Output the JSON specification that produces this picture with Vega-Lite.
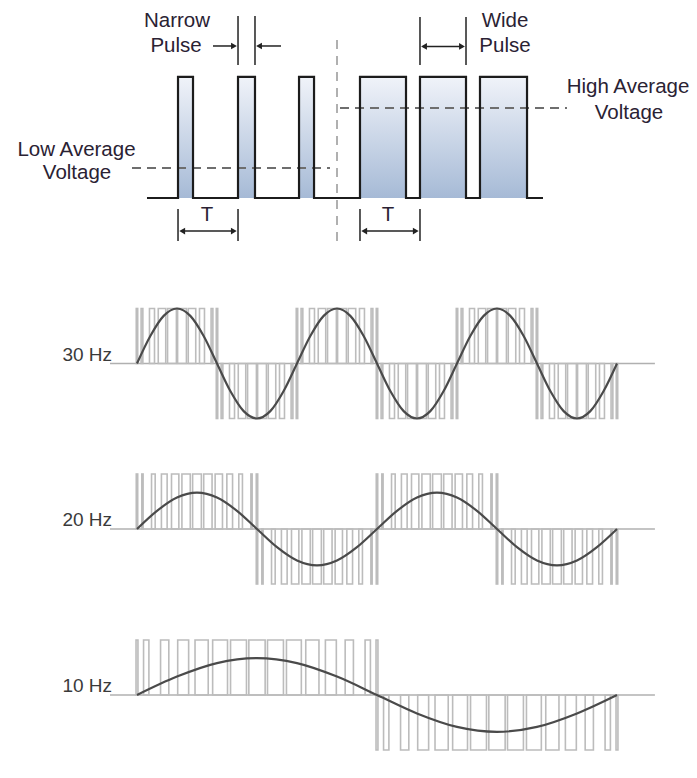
{
  "$schema": "https://vega.github.io/schema/vega-lite/v6.json",
  "padding": 0,
  "spacing": 0,
  "bounds": "flush",
  "background": "white",
  "config": {"view": {"stroke": null}},
  "vconcat": [
    {
      "width": 697,
      "height": 255,
      "layer": [
        {
          "data": {"values": [
            {"x": 0, "x2": 0.25, "y": 1, "y2": 0},
            {"x": 1, "x2": 1.283, "y": 1, "y2": 0},
            {"x": 2.017, "x2": 2.267, "y": 1, "y2": 0},
            {"x": 3.033, "x2": 3.8, "y": 1, "y2": 0},
            {"x": 4.033, "x2": 4.8, "y": 1, "y2": 0},
            {"x": 5.033, "x2": 5.817, "y": 1, "y2": 0}
          ]},
          "mark": {"type": "rect", "fill": {"gradient": "linear", "x1": 0, "y1": 0, "x2": 0, "y2": 1, "stops": [{"offset": 0, "color": "#f0f3f9"}, {"offset": 1, "color": "#a6bad6"}]}},
          "encoding": {
            "x": {"field": "x", "type": "quantitative", "scale": {"domain": [-2.967, 8.65], "nice": false, "zero": false}, "axis": null},
            "x2": {"field": "x2"},
            "y": {"field": "y", "type": "quantitative", "scale": {"domain": [-0.471, 1.636], "nice": false, "zero": false}, "axis": null},
            "y2": {"field": "y2"}
          }
        },
        {
          "data": {"values": [
            {"x": -0.767, "x2": 2.533, "y": 0.248, "y2": 0.248},
            {"x": 2.7, "x2": 6.483, "y": 0.744, "y2": 0.744}
          ]},
          "mark": {"type": "rule", "color": "#6e6e6e", "strokeWidth": 2, "strokeDash": [9, 6]},
          "encoding": {
            "x": {"field": "x", "type": "quantitative", "scale": {"domain": [-2.967, 8.65], "nice": false, "zero": false}, "axis": null},
            "x2": {"field": "x2"},
            "y": {"field": "y", "type": "quantitative", "scale": {"domain": [-0.471, 1.636], "nice": false, "zero": false}, "axis": null},
            "y2": {"field": "y2"}
          }
        },
        {
          "data": {"values": [
            {"x": 2.65, "x2": 2.65, "y": 1.306, "y2": -0.388}
          ]},
          "mark": {"type": "rule", "color": "#b0b0b0", "strokeWidth": 2, "strokeDash": [9, 7]},
          "encoding": {
            "x": {"field": "x", "type": "quantitative", "scale": {"domain": [-2.967, 8.65], "nice": false, "zero": false}, "axis": null},
            "x2": {"field": "x2"},
            "y": {"field": "y", "type": "quantitative", "scale": {"domain": [-0.471, 1.636], "nice": false, "zero": false}, "axis": null},
            "y2": {"field": "y2"}
          }
        },
        {
          "data": {"values": [
            {"i": 0, "x": -0.517, "y": 0}, {"i": 1, "x": 0, "y": 0}, {"i": 2, "x": 0, "y": 1}, {"i": 3, "x": 0.25, "y": 1}, {"i": 4, "x": 0.25, "y": 0},
            {"i": 5, "x": 1, "y": 0}, {"i": 6, "x": 1, "y": 1}, {"i": 7, "x": 1.283, "y": 1}, {"i": 8, "x": 1.283, "y": 0},
            {"i": 9, "x": 2.017, "y": 0}, {"i": 10, "x": 2.017, "y": 1}, {"i": 11, "x": 2.267, "y": 1}, {"i": 12, "x": 2.267, "y": 0},
            {"i": 13, "x": 3.033, "y": 0}, {"i": 14, "x": 3.033, "y": 1}, {"i": 15, "x": 3.8, "y": 1}, {"i": 16, "x": 3.8, "y": 0},
            {"i": 17, "x": 4.033, "y": 0}, {"i": 18, "x": 4.033, "y": 1}, {"i": 19, "x": 4.8, "y": 1}, {"i": 20, "x": 4.8, "y": 0},
            {"i": 21, "x": 5.033, "y": 0}, {"i": 22, "x": 5.033, "y": 1}, {"i": 23, "x": 5.817, "y": 1}, {"i": 24, "x": 5.817, "y": 0},
            {"i": 25, "x": 6.083, "y": 0}
          ]},
          "mark": {"type": "line", "color": "#1c1c1c", "strokeWidth": 2.2, "strokeJoin": "miter"},
          "encoding": {
            "x": {"field": "x", "type": "quantitative", "scale": {"domain": [-2.967, 8.65], "nice": false, "zero": false}, "axis": null},
            "y": {"field": "y", "type": "quantitative", "scale": {"domain": [-0.471, 1.636], "nice": false, "zero": false}, "axis": null},
            "order": {"field": "i", "type": "quantitative"}
          }
        },
        {
          "data": {"values": [
            {"x": 1, "x2": 1, "y": 1.504, "y2": 1.099},
            {"x": 1.283, "x2": 1.283, "y": 1.504, "y2": 1.099},
            {"x": 0.583, "x2": 0.94, "y": 1.256, "y2": 1.256},
            {"x": 1.717, "x2": 1.34, "y": 1.256, "y2": 1.256},
            {"x": 4.033, "x2": 4.033, "y": 1.496, "y2": 1.099},
            {"x": 4.8, "x2": 4.8, "y": 1.496, "y2": 1.099},
            {"x": 4.08, "x2": 4.75, "y": 1.252, "y2": 1.252},
            {"x": 0, "x2": 0, "y": -0.091, "y2": -0.355},
            {"x": 1, "x2": 1, "y": -0.091, "y2": -0.355},
            {"x": 0.05, "x2": 0.95, "y": -0.273, "y2": -0.273},
            {"x": 3.033, "x2": 3.033, "y": -0.091, "y2": -0.355},
            {"x": 4.033, "x2": 4.033, "y": -0.091, "y2": -0.355},
            {"x": 3.083, "x2": 3.983, "y": -0.273, "y2": -0.273}
          ]},
          "mark": {"type": "rule", "color": "#222222", "strokeWidth": 1.5},
          "encoding": {
            "x": {"field": "x", "type": "quantitative", "scale": {"domain": [-2.967, 8.65], "nice": false, "zero": false}, "axis": null},
            "x2": {"field": "x2"},
            "y": {"field": "y", "type": "quantitative", "scale": {"domain": [-0.471, 1.636], "nice": false, "zero": false}, "axis": null},
            "y2": {"field": "y2"}
          }
        },
        {
          "data": {"values": [
            {"x": 0.933, "y": 1.256, "d": "right"},
            {"x": 1.35, "y": 1.256, "d": "left"},
            {"x": 4.1, "y": 1.252, "d": "left"},
            {"x": 4.733, "y": 1.252, "d": "right"},
            {"x": 0.07, "y": -0.273, "d": "left"},
            {"x": 0.93, "y": -0.273, "d": "right"},
            {"x": 3.103, "y": -0.273, "d": "left"},
            {"x": 3.963, "y": -0.273, "d": "right"}
          ]},
          "mark": {"type": "point", "filled": true, "size": 45, "color": "#222222", "opacity": 1},
          "encoding": {
            "x": {"field": "x", "type": "quantitative", "scale": {"domain": [-2.967, 8.65], "nice": false, "zero": false}, "axis": null},
            "y": {"field": "y", "type": "quantitative", "scale": {"domain": [-0.471, 1.636], "nice": false, "zero": false}, "axis": null},
            "shape": {"field": "d", "type": "nominal", "scale": {"domain": ["right", "left"], "range": ["triangle-right", "triangle-left"]}, "legend": null}
          }
        },
        {
          "data": {"values": [
            {"x": -0.017, "y": 1.463, "s": "Narrow"},
            {"x": -0.033, "y": 1.256, "s": "Pulse"},
            {"x": 5.45, "y": 1.463, "s": "Wide"},
            {"x": 5.45, "y": 1.256, "s": "Pulse"},
            {"x": 7.5, "y": 0.917, "s": "High Average"},
            {"x": 7.517, "y": 0.702, "s": "Voltage"},
            {"x": -1.692, "y": 0.397, "s": "Low Average"},
            {"x": -1.683, "y": 0.207, "s": "Voltage"},
            {"x": 0.483, "y": -0.14, "s": "T"},
            {"x": 3.5, "y": -0.14, "s": "T"}
          ]},
          "mark": {"type": "text", "font": "Liberation Sans", "fontSize": 20.5, "color": "#2a2233", "align": "center", "baseline": "middle"},
          "encoding": {
            "x": {"field": "x", "type": "quantitative", "scale": {"domain": [-2.967, 8.65], "nice": false, "zero": false}, "axis": null},
            "y": {"field": "y", "type": "quantitative", "scale": {"domain": [-0.471, 1.636], "nice": false, "zero": false}, "axis": null},
            "text": {"field": "s", "type": "nominal"}
          }
        }
      ]
    },
    {
      "width": 697,
      "height": 185,
      "layer": [
        {
          "data": {"values": [{"x": -5.625, "x2": 107.9, "y": 0}]},
          "mark": {"type": "rule", "color": "#b0b0b0", "strokeWidth": 1.5},
          "encoding": {
            "x": {"field": "x", "type": "quantitative", "scale": {"domain": [-28.54, 116.67], "nice": false, "zero": false}, "axis": null},
            "x2": {"field": "x2"},
            "y": {"field": "y", "type": "quantitative", "scale": {"domain": [-1.3909, 1.9727], "nice": false, "zero": false}, "axis": null}
          }
        },
        {
          "data": {"values": [
            {"x": -0.15, "x2": 0.15, "y": 1, "y2": 0},
            {"x": 16.52, "x2": 16.82, "y": 1, "y2": -1},
            {"x": 33.18, "x2": 33.48, "y": 1, "y2": -1},
            {"x": 49.85, "x2": 50.15, "y": 1, "y2": -1},
            {"x": 66.52, "x2": 66.82, "y": 1, "y2": -1},
            {"x": 83.18, "x2": 83.48, "y": 1, "y2": -1},
            {"x": 99.85, "x2": 100.15, "y": 0, "y2": -1},
            {"x": 0.86, "x2": 1.22, "y": 1, "y2": 0}, {"x": 2.6, "x2": 3.65, "y": 1, "y2": 0}, {"x": 4.43, "x2": 5.99, "y": 1, "y2": 0}, {"x": 6.37, "x2": 8.21, "y": 1, "y2": 0},
            {"x": 8.46, "x2": 10.3, "y": 1, "y2": 0}, {"x": 10.68, "x2": 12.24, "y": 1, "y2": 0}, {"x": 13.02, "x2": 14.06, "y": 1, "y2": 0}, {"x": 15.44, "x2": 15.81, "y": 1, "y2": 0},
            {"x": 17.53, "x2": 17.89, "y": -1, "y2": 0}, {"x": 19.27, "x2": 20.32, "y": -1, "y2": 0}, {"x": 21.1, "x2": 22.66, "y": -1, "y2": 0}, {"x": 23.04, "x2": 24.88, "y": -1, "y2": 0},
            {"x": 25.13, "x2": 26.97, "y": -1, "y2": 0}, {"x": 27.35, "x2": 28.91, "y": -1, "y2": 0}, {"x": 29.69, "x2": 30.73, "y": -1, "y2": 0}, {"x": 32.11, "x2": 32.48, "y": -1, "y2": 0},
            {"x": 34.19, "x2": 34.55, "y": 1, "y2": 0}, {"x": 35.93, "x2": 36.98, "y": 1, "y2": 0}, {"x": 37.76, "x2": 39.32, "y": 1, "y2": 0}, {"x": 39.7, "x2": 41.54, "y": 1, "y2": 0},
            {"x": 41.79, "x2": 43.63, "y": 1, "y2": 0}, {"x": 44.01, "x2": 45.57, "y": 1, "y2": 0}, {"x": 46.35, "x2": 47.39, "y": 1, "y2": 0}, {"x": 48.77, "x2": 49.14, "y": 1, "y2": 0},
            {"x": 50.86, "x2": 51.22, "y": -1, "y2": 0}, {"x": 52.6, "x2": 53.65, "y": -1, "y2": 0}, {"x": 54.43, "x2": 55.99, "y": -1, "y2": 0}, {"x": 56.37, "x2": 58.21, "y": -1, "y2": 0},
            {"x": 58.46, "x2": 60.3, "y": -1, "y2": 0}, {"x": 60.68, "x2": 62.24, "y": -1, "y2": 0}, {"x": 63.02, "x2": 64.06, "y": -1, "y2": 0}, {"x": 65.44, "x2": 65.81, "y": -1, "y2": 0},
            {"x": 67.53, "x2": 67.89, "y": 1, "y2": 0}, {"x": 69.27, "x2": 70.32, "y": 1, "y2": 0}, {"x": 71.1, "x2": 72.66, "y": 1, "y2": 0}, {"x": 73.04, "x2": 74.88, "y": 1, "y2": 0},
            {"x": 75.13, "x2": 76.97, "y": 1, "y2": 0}, {"x": 77.35, "x2": 78.91, "y": 1, "y2": 0}, {"x": 79.69, "x2": 80.73, "y": 1, "y2": 0}, {"x": 82.11, "x2": 82.48, "y": 1, "y2": 0},
            {"x": 84.19, "x2": 84.55, "y": -1, "y2": 0}, {"x": 85.93, "x2": 86.98, "y": -1, "y2": 0}, {"x": 87.76, "x2": 89.32, "y": -1, "y2": 0}, {"x": 89.7, "x2": 91.54, "y": -1, "y2": 0},
            {"x": 91.79, "x2": 93.63, "y": -1, "y2": 0}, {"x": 94.01, "x2": 95.57, "y": -1, "y2": 0}, {"x": 96.35, "x2": 97.39, "y": -1, "y2": 0}, {"x": 98.77, "x2": 99.14, "y": -1, "y2": 0}
          ]},
          "mark": {"type": "rect", "filled": false, "stroke": "#bcbcbc", "strokeWidth": 1.6},
          "encoding": {
            "x": {"field": "x", "type": "quantitative", "scale": {"domain": [-28.54, 116.67], "nice": false, "zero": false}, "axis": null},
            "x2": {"field": "x2"},
            "y": {"field": "y", "type": "quantitative", "scale": {"domain": [-1.3909, 1.9727], "nice": false, "zero": false}, "axis": null},
            "y2": {"field": "y2"}
          }
        },
        {
          "data": {"values": [
            {"x": 0, "y": 0}, {"x": 2.778, "y": 0.5}, {"x": 5.556, "y": 0.866}, {"x": 8.333, "y": 1}, {"x": 11.111, "y": 0.866}, {"x": 13.889, "y": 0.5},
            {"x": 16.667, "y": 0}, {"x": 19.444, "y": -0.5}, {"x": 22.222, "y": -0.866}, {"x": 25, "y": -1}, {"x": 27.778, "y": -0.866}, {"x": 30.556, "y": -0.5},
            {"x": 33.333, "y": 0}, {"x": 36.111, "y": 0.5}, {"x": 38.889, "y": 0.866}, {"x": 41.667, "y": 1}, {"x": 44.444, "y": 0.866}, {"x": 47.222, "y": 0.5},
            {"x": 50, "y": 0}, {"x": 52.778, "y": -0.5}, {"x": 55.556, "y": -0.866}, {"x": 58.333, "y": -1}, {"x": 61.111, "y": -0.866}, {"x": 63.889, "y": -0.5},
            {"x": 66.667, "y": 0}, {"x": 69.444, "y": 0.5}, {"x": 72.222, "y": 0.866}, {"x": 75, "y": 1}, {"x": 77.778, "y": 0.866}, {"x": 80.556, "y": 0.5},
            {"x": 83.333, "y": 0}, {"x": 86.111, "y": -0.5}, {"x": 88.889, "y": -0.866}, {"x": 91.667, "y": -1}, {"x": 94.444, "y": -0.866}, {"x": 97.222, "y": -0.5},
            {"x": 100, "y": 0}
          ]},
          "mark": {"type": "line", "color": "#4a4a4a", "strokeWidth": 2.2, "interpolate": "monotone"},
          "encoding": {
            "x": {"field": "x", "type": "quantitative", "scale": {"domain": [-28.54, 116.67], "nice": false, "zero": false}, "axis": null},
            "y": {"field": "y", "type": "quantitative", "scale": {"domain": [-1.3909, 1.9727], "nice": false, "zero": false}, "axis": null}
          }
        },
        {
          "data": {"values": [{"x": -5.2, "y": 0.155, "s": "30 Hz"}]},
          "mark": {"type": "text", "font": "Liberation Sans", "fontSize": 19, "color": "#3a3a3a", "align": "right", "baseline": "middle"},
          "encoding": {
            "x": {"field": "x", "type": "quantitative", "scale": {"domain": [-28.54, 116.67], "nice": false, "zero": false}, "axis": null},
            "y": {"field": "y", "type": "quantitative", "scale": {"domain": [-1.3909, 1.9727], "nice": false, "zero": false}, "axis": null},
            "text": {"field": "s", "type": "nominal"}
          }
        }
      ]
    },
    {
      "width": 697,
      "height": 165,
      "layer": [
        {
          "data": {"values": [{"x": -5.625, "x2": 107.9, "y": 0}]},
          "mark": {"type": "rule", "color": "#b0b0b0", "strokeWidth": 1.5},
          "encoding": {
            "x": {"field": "x", "type": "quantitative", "scale": {"domain": [-28.54, 116.67], "nice": false, "zero": false}, "axis": null},
            "x2": {"field": "x2"},
            "y": {"field": "y", "type": "quantitative", "scale": {"domain": [-1.3818, 1.6182], "nice": false, "zero": false}, "axis": null}
          }
        },
        {
          "data": {"values": [
            {"x": -0.15, "x2": 0.15, "y": 1, "y2": 0},
            {"x": 24.85, "x2": 25.15, "y": 1, "y2": -1},
            {"x": 49.85, "x2": 50.15, "y": 1, "y2": -1},
            {"x": 74.85, "x2": 75.15, "y": 1, "y2": -1},
            {"x": 99.85, "x2": 100.15, "y": 0, "y2": -1},
            {"x": 1.01, "x2": 1.27, "y": 1, "y2": 0}, {"x": 3.03, "x2": 3.79, "y": 1, "y2": 0}, {"x": 5.09, "x2": 6.28, "y": 1, "y2": 0}, {"x": 7.19, "x2": 8.72, "y": 1, "y2": 0},
            {"x": 9.36, "x2": 11.1, "y": 1, "y2": 0}, {"x": 11.59, "x2": 13.41, "y": 1, "y2": 0}, {"x": 13.9, "x2": 15.64, "y": 1, "y2": 0}, {"x": 16.28, "x2": 17.81, "y": 1, "y2": 0},
            {"x": 18.72, "x2": 19.91, "y": 1, "y2": 0}, {"x": 21.21, "x2": 21.97, "y": 1, "y2": 0}, {"x": 23.73, "x2": 23.99, "y": 1, "y2": 0},
            {"x": 26.01, "x2": 26.27, "y": -1, "y2": 0}, {"x": 28.03, "x2": 28.79, "y": -1, "y2": 0}, {"x": 30.09, "x2": 31.28, "y": -1, "y2": 0}, {"x": 32.19, "x2": 33.72, "y": -1, "y2": 0},
            {"x": 34.36, "x2": 36.1, "y": -1, "y2": 0}, {"x": 36.59, "x2": 38.41, "y": -1, "y2": 0}, {"x": 38.9, "x2": 40.64, "y": -1, "y2": 0}, {"x": 41.28, "x2": 42.81, "y": -1, "y2": 0},
            {"x": 43.72, "x2": 44.91, "y": -1, "y2": 0}, {"x": 46.21, "x2": 46.97, "y": -1, "y2": 0}, {"x": 48.73, "x2": 48.99, "y": -1, "y2": 0},
            {"x": 51.01, "x2": 51.27, "y": 1, "y2": 0}, {"x": 53.03, "x2": 53.79, "y": 1, "y2": 0}, {"x": 55.09, "x2": 56.28, "y": 1, "y2": 0}, {"x": 57.19, "x2": 58.72, "y": 1, "y2": 0},
            {"x": 59.36, "x2": 61.1, "y": 1, "y2": 0}, {"x": 61.59, "x2": 63.41, "y": 1, "y2": 0}, {"x": 63.9, "x2": 65.64, "y": 1, "y2": 0}, {"x": 66.28, "x2": 67.81, "y": 1, "y2": 0},
            {"x": 68.72, "x2": 69.91, "y": 1, "y2": 0}, {"x": 71.21, "x2": 71.97, "y": 1, "y2": 0}, {"x": 73.73, "x2": 73.99, "y": 1, "y2": 0},
            {"x": 76.01, "x2": 76.27, "y": -1, "y2": 0}, {"x": 78.03, "x2": 78.79, "y": -1, "y2": 0}, {"x": 80.09, "x2": 81.28, "y": -1, "y2": 0}, {"x": 82.19, "x2": 83.72, "y": -1, "y2": 0},
            {"x": 84.36, "x2": 86.1, "y": -1, "y2": 0}, {"x": 86.59, "x2": 88.41, "y": -1, "y2": 0}, {"x": 88.9, "x2": 90.64, "y": -1, "y2": 0}, {"x": 91.28, "x2": 92.81, "y": -1, "y2": 0},
            {"x": 93.72, "x2": 94.91, "y": -1, "y2": 0}, {"x": 96.21, "x2": 96.97, "y": -1, "y2": 0}, {"x": 98.73, "x2": 98.99, "y": -1, "y2": 0}
          ]},
          "mark": {"type": "rect", "filled": false, "stroke": "#bcbcbc", "strokeWidth": 1.6},
          "encoding": {
            "x": {"field": "x", "type": "quantitative", "scale": {"domain": [-28.54, 116.67], "nice": false, "zero": false}, "axis": null},
            "x2": {"field": "x2"},
            "y": {"field": "y", "type": "quantitative", "scale": {"domain": [-1.3818, 1.6182], "nice": false, "zero": false}, "axis": null},
            "y2": {"field": "y2"}
          }
        },
        {
          "data": {"values": [
            {"x": 0, "y": 0}, {"x": 4.167, "y": 0.33}, {"x": 8.333, "y": 0.572}, {"x": 12.5, "y": 0.66}, {"x": 16.667, "y": 0.572}, {"x": 20.833, "y": 0.33},
            {"x": 25, "y": 0}, {"x": 29.167, "y": -0.33}, {"x": 33.333, "y": -0.572}, {"x": 37.5, "y": -0.66}, {"x": 41.667, "y": -0.572}, {"x": 45.833, "y": -0.33},
            {"x": 50, "y": 0}, {"x": 54.167, "y": 0.33}, {"x": 58.333, "y": 0.572}, {"x": 62.5, "y": 0.66}, {"x": 66.667, "y": 0.572}, {"x": 70.833, "y": 0.33},
            {"x": 75, "y": 0}, {"x": 79.167, "y": -0.33}, {"x": 83.333, "y": -0.572}, {"x": 87.5, "y": -0.66}, {"x": 91.667, "y": -0.572}, {"x": 95.833, "y": -0.33},
            {"x": 100, "y": 0}
          ]},
          "mark": {"type": "line", "color": "#4a4a4a", "strokeWidth": 2.2, "interpolate": "monotone"},
          "encoding": {
            "x": {"field": "x", "type": "quantitative", "scale": {"domain": [-28.54, 116.67], "nice": false, "zero": false}, "axis": null},
            "y": {"field": "y", "type": "quantitative", "scale": {"domain": [-1.3818, 1.6182], "nice": false, "zero": false}, "axis": null}
          }
        },
        {
          "data": {"values": [{"x": -5.2, "y": 0.164, "s": "20 Hz"}]},
          "mark": {"type": "text", "font": "Liberation Sans", "fontSize": 19, "color": "#3a3a3a", "align": "right", "baseline": "middle"},
          "encoding": {
            "x": {"field": "x", "type": "quantitative", "scale": {"domain": [-28.54, 116.67], "nice": false, "zero": false}, "axis": null},
            "y": {"field": "y", "type": "quantitative", "scale": {"domain": [-1.3818, 1.6182], "nice": false, "zero": false}, "axis": null},
            "text": {"field": "s", "type": "nominal"}
          }
        }
      ]
    },
    {
      "width": 697,
      "height": 173,
      "layer": [
        {
          "data": {"values": [{"x": -5.625, "x2": 107.9, "y": 0}]},
          "mark": {"type": "rule", "color": "#b0b0b0", "strokeWidth": 1.5},
          "encoding": {
            "x": {"field": "x", "type": "quantitative", "scale": {"domain": [-28.54, 116.67], "nice": false, "zero": false}, "axis": null},
            "x2": {"field": "x2"},
            "y": {"field": "y", "type": "quantitative", "scale": {"domain": [-1.5091, 1.6364], "nice": false, "zero": false}, "axis": null}
          }
        },
        {
          "data": {"values": [
            {"x": -0.2, "x2": 0.2, "y": 1, "y2": 0},
            {"x": 49.8, "x2": 50.2, "y": 1, "y2": -1},
            {"x": 99.8, "x2": 100.2, "y": 0, "y2": -1},
            {"x": 1.37, "x2": 2.48, "y": 1, "y2": 0}, {"x": 4.91, "x2": 6.63, "y": 1, "y2": 0}, {"x": 8.48, "x2": 10.76, "y": 1, "y2": 0}, {"x": 12.09, "x2": 14.84, "y": 1, "y2": 0},
            {"x": 15.76, "x2": 18.86, "y": 1, "y2": 0}, {"x": 19.49, "x2": 22.81, "y": 1, "y2": 0}, {"x": 23.3, "x2": 26.7, "y": 1, "y2": 0}, {"x": 27.19, "x2": 30.51, "y": 1, "y2": 0},
            {"x": 31.14, "x2": 34.24, "y": 1, "y2": 0}, {"x": 35.16, "x2": 37.91, "y": 1, "y2": 0}, {"x": 39.25, "x2": 41.53, "y": 1, "y2": 0}, {"x": 43.37, "x2": 45.09, "y": 1, "y2": 0},
            {"x": 47.52, "x2": 48.63, "y": 1, "y2": 0},
            {"x": 51.37, "x2": 52.48, "y": -1, "y2": 0}, {"x": 54.91, "x2": 56.63, "y": -1, "y2": 0}, {"x": 58.48, "x2": 60.76, "y": -1, "y2": 0}, {"x": 62.09, "x2": 64.84, "y": -1, "y2": 0},
            {"x": 65.76, "x2": 68.86, "y": -1, "y2": 0}, {"x": 69.49, "x2": 72.81, "y": -1, "y2": 0}, {"x": 73.3, "x2": 76.7, "y": -1, "y2": 0}, {"x": 77.19, "x2": 80.51, "y": -1, "y2": 0},
            {"x": 81.14, "x2": 84.24, "y": -1, "y2": 0}, {"x": 85.16, "x2": 87.91, "y": -1, "y2": 0}, {"x": 89.25, "x2": 91.53, "y": -1, "y2": 0}, {"x": 93.37, "x2": 95.09, "y": -1, "y2": 0},
            {"x": 97.52, "x2": 98.63, "y": -1, "y2": 0}
          ]},
          "mark": {"type": "rect", "filled": false, "stroke": "#bcbcbc", "strokeWidth": 1.6},
          "encoding": {
            "x": {"field": "x", "type": "quantitative", "scale": {"domain": [-28.54, 116.67], "nice": false, "zero": false}, "axis": null},
            "x2": {"field": "x2"},
            "y": {"field": "y", "type": "quantitative", "scale": {"domain": [-1.5091, 1.6364], "nice": false, "zero": false}, "axis": null},
            "y2": {"field": "y2"}
          }
        },
        {
          "data": {"values": [
            {"x": 0, "y": 0}, {"x": 8.333, "y": 0.335}, {"x": 16.667, "y": 0.58}, {"x": 25, "y": 0.67}, {"x": 33.333, "y": 0.58}, {"x": 41.667, "y": 0.335},
            {"x": 50, "y": 0}, {"x": 58.333, "y": -0.335}, {"x": 66.667, "y": -0.58}, {"x": 75, "y": -0.67}, {"x": 83.333, "y": -0.58}, {"x": 91.667, "y": -0.335},
            {"x": 100, "y": 0}
          ]},
          "mark": {"type": "line", "color": "#4a4a4a", "strokeWidth": 2.2, "interpolate": "monotone"},
          "encoding": {
            "x": {"field": "x", "type": "quantitative", "scale": {"domain": [-28.54, 116.67], "nice": false, "zero": false}, "axis": null},
            "y": {"field": "y", "type": "quantitative", "scale": {"domain": [-1.5091, 1.6364], "nice": false, "zero": false}, "axis": null}
          }
        },
        {
          "data": {"values": [{"x": -5.2, "y": 0.164, "s": "10 Hz"}]},
          "mark": {"type": "text", "font": "Liberation Sans", "fontSize": 19, "color": "#3a3a3a", "align": "right", "baseline": "middle"},
          "encoding": {
            "x": {"field": "x", "type": "quantitative", "scale": {"domain": [-28.54, 116.67], "nice": false, "zero": false}, "axis": null},
            "y": {"field": "y", "type": "quantitative", "scale": {"domain": [-1.5091, 1.6364], "nice": false, "zero": false}, "axis": null},
            "text": {"field": "s", "type": "nominal"}
          }
        }
      ]
    }
  ]
}
